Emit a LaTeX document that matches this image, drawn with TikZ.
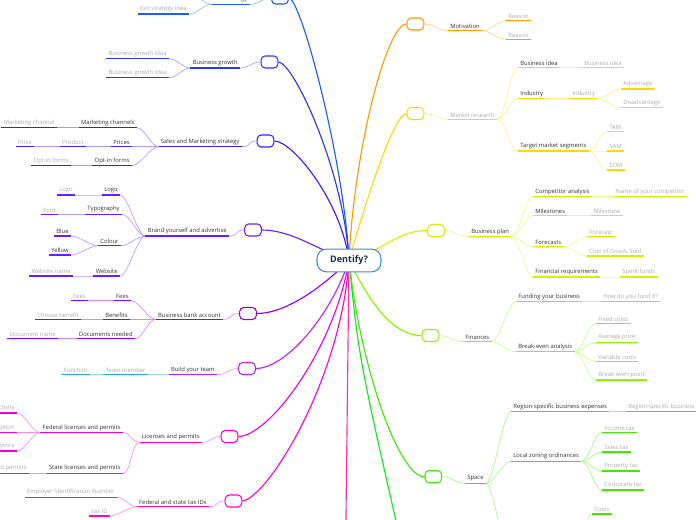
\documentclass[tikz,border=0pt]{standalone}
\usepackage{fontspec}
\setmainfont{Open Sans}
\usetikzlibrary{backgrounds}
\definecolor{cExit}{HTML}{1F5CFF}
\definecolor{cGrowth}{HTML}{2A36FF}
\definecolor{cSales}{HTML}{3B1CFF}
\definecolor{cBrand}{HTML}{6A1CFF}
\definecolor{cBank}{HTML}{8F00F5}
\definecolor{cTeam}{HTML}{C020EE}
\definecolor{cTeamSub}{HTML}{29A9E6}
\definecolor{cLic}{HTML}{EE00DD}
\definecolor{cTax}{HTML}{FF00C8}
\definecolor{cPink}{HTML}{FF2FA8}
\definecolor{cGreen}{HTML}{10E81A}
\definecolor{cSpace}{HTML}{3EEB00}
\definecolor{cFin}{HTML}{88F700}
\definecolor{cPlan}{HTML}{D2F200}
\definecolor{cMarket}{HTML}{FFD900}
\definecolor{cMot}{HTML}{FF9A00}
\definecolor{rootline}{HTML}{3A90D0}
\definecolor{rootink}{HTML}{1B2A4E}
\tikzstyle{topic} = [font=\fontsize{4.4}{5}\selectfont, text=black!80, inner xsep=1.6pt, inner ysep=1.3pt]
\tikzstyle{idea} = [topic, text=black!33]
\tikzstyle{wside} = [anchor=south east]
\tikzstyle{eside} = [anchor=south west]
\tikzstyle{knob} = [rectangle, rounded corners=3pt, minimum width=12.5pt, minimum height=9pt, line width=0.8pt, fill=white, draw]
\tikzstyle{rootbox} = [rectangle, rounded corners=7pt, minimum width=48pt, minimum height=17pt, draw=rootline, line width=0.8pt, fill=white, text=rootink, font=\bfseries\fontsize{6.8}{8}\selectfont]
\tikzstyle{stem} = [line width=0.85pt]
\tikzstyle{twig} = [line width=0.5pt]
\tikzset{ul/.style={append after command={(\tikzlastnode.south west) edge[draw=#1, line width=1.1pt] (\tikzlastnode.south east)}}}

\begin{document}
\begin{tikzpicture}[x=0.75pt, y=-0.75pt]
	\useasboundingbox (0,0) rectangle (696,520);
	\node (root) [rootbox] at (349,260.5) {Dentify?};

	% left half
	\node (bExit) [knob, draw=cExit] at (280,-2) {};
	\node (tExit) [topic, wside, ul=cExit] at (250,4.3) {Exit strategy};
	\node (exit2) [idea, wside, ul=cExit] at (189,14) {Exit strategy idea};
	\coordinate (exit1) at (189,-6);

	\node (bGrowth) [knob, draw=cGrowth] at (269.5,62) {};
	\node (tGrowth) [topic, wside, ul=cGrowth] at (240,68) {Business growth};
	\node (growth1) [idea, wside, ul=cGrowth] at (169,58.7) {Business growth idea};
	\node (growth2) [idea, wside, ul=cGrowth] at (169,77.7) {Business growth idea};

	\node (bSales) [knob, draw=cSales] at (265.5,141) {};
	\node (tSales) [topic, wside, ul=cSales] at (242,146.7) {Sales and Marketing strategy};
	\node (mchan) [topic, wside, ul=cSales] at (137,127.7) {Marketing channels};
	\node (mchan1) [idea, wside, ul=cSales] at (57,127.7) {Marketing channel};
	\node (prices) [topic, wside, ul=cSales] at (132,146.7) {Prices};
	\node (product) [idea, wside, ul=cSales] at (86,146.7) {Product};
	\node (price) [idea, wside, ul=cSales] at (34,146.7) {Price};
	\node (optin) [topic, wside, ul=cSales] at (132,165.7) {Opt-in forms};
	\node (optin1) [idea, wside, ul=cSales] at (71,165.7) {Opt-in forms};

	\node (bBrand) [knob, draw=cBrand] at (253,230) {};
	\node (tBrand) [topic, wside, ul=cBrand] at (229,236) {Brand yourself and advertise};
	\node (logo) [topic, wside, ul=cBrand] at (120,195) {Logo};
	\node (logo1) [idea, wside, ul=cBrand] at (75,195) {Logo};
	\node (typo) [topic, wside, ul=cBrand] at (122,214.3) {Typography};
	\node (font1) [idea, wside, ul=cBrand] at (58,214.3) {Font};
	\node (colour) [topic, wside, ul=cBrand] at (121,245.7) {Colour};
	\node (blue) [topic, wside, ul=cBrand] at (71,236) {Blue};
	\node (yellow) [topic, wside, ul=cBrand] at (71,255) {Yellow};
	\node (website) [topic, wside, ul=cBrand] at (120,276) {Website};
	\node (website1) [idea, wside, ul=cBrand] at (73,276) {Website name};

	\node (bBank) [knob, draw=cBank] at (248,313.5) {};
	\node (tBank) [topic, wside, ul=cBank] at (223,319.3) {Business bank account};
	\node (fees) [topic, wside, ul=cBank] at (131,300.7) {Fees};
	\node (fees1) [idea, wside, ul=cBank] at (88,300.7) {Fees};
	\node (benefits) [topic, wside, ul=cBank] at (130,319.3) {Benefits};
	\node (benefit1) [idea, wside, ul=cBank] at (81,319.3) {Choose benefit};
	\node (docs) [topic, wside, ul=cBank] at (135,338.7) {Documents needed};
	\node (doc1) [idea, wside, ul=cBank] at (58,338.7) {Document name};

	\node (bTeam) [knob, draw=cTeam] at (247,368.5) {};
	\node (tTeam) [topic, wside, ul=cTeam] at (217,374.7) {Build your team};
	\node (member) [idea, wside, ul=cTeamSub] at (148,374.7) {Team member};
	\node (func) [idea, wside, ul=cTeamSub] at (90,374.7) {Function};

	\node (bLic) [knob, draw=cLic] at (229.5,436.5) {};
	\node (tLic) [topic, wside, ul=cLic] at (202,442.3) {Licenses and permits};
	\node (fed) [topic, wside, ul=cLic] at (123,432.7) {Federal licenses and permits};
	\node (fed1) [idea, wside, ul=cLic] at (17,413) {Activity};
	\node (fed2) [idea, wside, ul=cLic] at (17,432.7) {Description};
	\node (fed3) [idea, wside, ul=cLic] at (17,451) {Agency};
	\node (state) [topic, wside, ul=cLic] at (123,473.3) {State licenses and permits};
	\node (state1) [idea, wside, ul=cLic] at (29,473.3) {Licenses and permits};

	\node (bTax) [knob, draw=cTax] at (233.5,501) {};
	\node (tTax) [topic, wside, ul=cTax] at (209,506.7) {Federal and state tax IDs};
	\node (ein) [idea, wside, ul=cTax] at (117,497.3) {Employer Identification Number};
	\node (taxid) [idea, wside, ul=cTax] at (110,516) {tax ID};

	\coordinate (pinkEnd) at (345,600);
	\coordinate (greenEnd) at (412,590);

	% right half
	\node (bMot) [knob, draw=cMot] at (415.5,24) {};
	\node (tMot) [topic, eside, ul=cMot] at (448,30.7) {Motivation};
	\node (reason1) [idea, eside, ul=cMot] at (506,20.7) {Reason};
	\node (reason2) [idea, eside, ul=cMot] at (506,39.3) {Reason};

	\node (bMarket) [knob, draw=cMarket] at (415.5,113.5) {};
	\node (tMarket) [idea, eside, ul=cMarket] at (448,119.3) {Market research};
	\node (bidea) [topic, eside, ul=cMarket] at (518,67.7) {Business idea};
	\node (bidea1) [idea, eside, ul=cMarket] at (582,67.7) {Business idea};
	\node (industry) [topic, eside, ul=cMarket] at (518,98.7) {Industry};
	\node (industry1) [idea, eside, ul=cMarket] at (570,98.7) {Industry};
	\node (adv) [idea, eside, ul=cMarket] at (621,89) {Advantage};
	\node (disadv) [idea, eside, ul=cMarket] at (621,107.7) {Disadvantage};
	\node (target) [topic, eside, ul=cMarket] at (518,151) {Target market segments};
	\node (tam) [idea, eside, ul=cMarket] at (607,131.7) {TAM};
	\node (sam) [idea, eside, ul=cMarket] at (607,151) {SAM};
	\node (som) [idea, eside, ul=cMarket] at (607,170) {SOM};

	\node (bPlan) [knob, draw=cPlan] at (436,230.5) {};
	\node (tPlan) [topic, eside, ul=cPlan] at (469,236.7) {Business plan};
	\node (comp) [topic, eside, ul=cPlan] at (533,196.7) {Competitor analysis};
	\node (comp1) [idea, eside, ul=cPlan] at (613,196.7) {Name of your competitor};
	\node (miles) [topic, eside, ul=cPlan] at (533,215.7) {Milestones};
	\node (miles1) [idea, eside, ul=cPlan] at (591,215.7) {Milestone};
	\node (fcast) [topic, eside, ul=cPlan] at (533,246.7) {Forecasts};
	\node (fcast1) [idea, eside, ul=cPlan] at (587,236.7) {Forecast};
	\node (cogs) [idea, eside, ul=cPlan] at (587,256) {Cost of Goods Sold};
	\node (finreq) [topic, eside, ul=cPlan] at (533,277) {Financial requirements};
	\node (spent) [idea, eside, ul=cPlan] at (620,277) {Spent funds};

	\node (bFin) [knob, draw=cFin] at (430.5,335.5) {};
	\node (tFin) [topic, eside, ul=cFin] at (463,341.7) {Finances};
	\node (fund) [topic, eside, ul=cFin] at (516,301.7) {Funding your business};
	\node (fund1) [idea, eside, ul=cFin] at (601,301.7) {How do you fund it?};
	\node (bea) [topic, eside, ul=cFin] at (516,351.7) {Break-even analysis};
	\node (fixed) [idea, eside, ul=cFin] at (596,323.3) {Fixed costs};
	\node (avg) [idea, eside, ul=cFin] at (596,342.3) {Average price};
	\node (varc) [idea, eside, ul=cFin] at (596,361.3) {Variable costs};
	\node (bep) [idea, eside, ul=cFin] at (596,380) {Break-even point};

	\node (bSpace) [knob, draw=cSpace] at (433.3,476.7) {};
	\node (tSpace) [topic, eside, ul=cSpace] at (465,483.3) {Space};
	\node (region) [topic, eside, ul=cSpace] at (511,411.7) {Region-specific business expenses};
	\node (region1) [idea, eside, ul=cSpace] at (626,411.7) {Region-specific business expenses};
	\node (zoning) [topic, eside, ul=cSpace] at (511,461.3) {Local zoning ordinances};
	\node (income) [idea, eside, ul=cSpace] at (602,432.7) {Income tax};
	\node (salestax) [idea, eside, ul=cSpace] at (602,452) {Sales tax};
	\node (property) [idea, eside, ul=cSpace] at (602,471) {Property tax};
	\node (corporate) [idea, eside, ul=cSpace] at (602,490) {Corporate tax};
	\node (costs) [idea, eside, ul=cSpace] at (592,514) {Costs};
	\coordinate (spcHid) at (511,560);
	\coordinate (spcFork) at (584,548);

	\begin{scope}[on background layer]
		% stems from the root
		\draw [stem, cExit] (root.center) .. controls +(-5,-100) and +(12,0) .. (bExit.east);
		\draw [stem, cGrowth] (root.center) .. controls +(-5,-90) and +(15,0) .. (bGrowth.east);
		\draw [stem, cSales] (root.center) .. controls +(-8,-60) and +(18,0) .. (bSales.east);
		\draw [stem, cBrand] (root.center) .. controls +(-30,-10) and +(30,0) .. (bBrand.east);
		\draw [stem, cBank] (root.center) .. controls +(-25,25) and +(30,0) .. (bBank.east);
		\draw [stem, cTeam] (root.center) .. controls +(-18,55) and +(30,0) .. (bTeam.east);
		\draw [stem, cLic] (root.center) .. controls +(-15,90) and +(30,0) .. (bLic.east);
		\draw [stem, cTax] (root.center) .. controls +(-8,120) and +(25,-3) .. (bTax.east);
		\draw [stem, cPink] (root.center) -- (pinkEnd);
		\draw [stem, cGreen] (root.center) .. controls +(10,100) .. (greenEnd);
		\draw [stem, cSpace] (root.center) .. controls +(12,110) and +(-25,0) .. (bSpace.west);
		\draw [stem, cFin] (root.center) .. controls +(20,40) and +(-30,0) .. (bFin.west);
		\draw [stem, cPlan] (root.center) .. controls +(35,-10) and +(-30,0) .. (bPlan.west);
		\draw [stem, cMarket] (root.center) .. controls +(20,-70) and +(-12,0) .. (bMarket.west);
		\draw [stem, cMot] (root.center) .. controls +(5,-110) and +(-20,0) .. (bMot.west);

		% knob to label
		\foreach \b/\t/\col in {bExit/tExit/cExit, bGrowth/tGrowth/cGrowth, bSales/tSales/cSales, bBrand/tBrand/cBrand, bBank/tBank/cBank, bTeam/tTeam/cTeam, bLic/tLic/cLic, bTax/tTax/cTax}
			\draw [twig, draw=\col!45] (\b.west) .. controls +(-10,0) and +(10,0) .. (\t.south east);
		\foreach \b/\t/\col in {bMot/tMot/cMot, bMarket/tMarket/cMarket, bPlan/tPlan/cPlan, bFin/tFin/cFin, bSpace/tSpace/cSpace}
			\draw [twig, draw=\col!45] (\b.east) .. controls +(10,0) and +(-10,0) .. (\t.south west);

		% forks, left half
		\foreach \p/\c/\col in {tExit/exit2/cExit, tGrowth/growth1/cGrowth, tGrowth/growth2/cGrowth,
			tSales/mchan/cSales, tSales/prices/cSales, tSales/optin/cSales, mchan/mchan1/cSales, prices/product/cSales, product/price/cSales, optin/optin1/cSales,
			tBrand/logo/cBrand, tBrand/typo/cBrand, tBrand/colour/cBrand, tBrand/website/cBrand, logo/logo1/cBrand, typo/font1/cBrand, colour/blue/cBrand, colour/yellow/cBrand, website/website1/cBrand,
			tBank/fees/cBank, tBank/benefits/cBank, tBank/docs/cBank, fees/fees1/cBank, benefits/benefit1/cBank, docs/doc1/cBank,
			tTeam/member/cTeamSub, member/func/cTeamSub,
			tLic/fed/cLic, tLic/state/cLic, fed/fed1/cLic, fed/fed2/cLic, fed/fed3/cLic, state/state1/cLic,
			tTax/ein/cTax, tTax/taxid/cTax}
			\draw [twig, draw=\col!45] (\p.south west) .. controls +(-8,0) and +(8,0) .. (\c.south east);
		\draw [twig, draw=cExit!45] (tExit.south west) .. controls +(-8,0) and +(8,0) .. (exit1);

		% forks, right half
		\foreach \p/\c/\col in {tMot/reason1/cMot, tMot/reason2/cMot,
			tMarket/bidea/cMarket, tMarket/industry/cMarket, tMarket/target/cMarket, bidea/bidea1/cMarket, industry/industry1/cMarket, industry1/adv/cMarket, industry1/disadv/cMarket, target/tam/cMarket, target/sam/cMarket, target/som/cMarket,
			tPlan/comp/cPlan, tPlan/miles/cPlan, tPlan/fcast/cPlan, tPlan/finreq/cPlan, comp/comp1/cPlan, miles/miles1/cPlan, fcast/fcast1/cPlan, fcast/cogs/cPlan, finreq/spent/cPlan,
			tFin/fund/cFin, tFin/bea/cFin, fund/fund1/cFin, bea/fixed/cFin, bea/avg/cFin, bea/varc/cFin, bea/bep/cFin,
			tSpace/region/cSpace, tSpace/zoning/cSpace, region/region1/cSpace, zoning/income/cSpace, zoning/salestax/cSpace, zoning/property/cSpace, zoning/corporate/cSpace}
			\draw [twig, draw=\col!45] (\p.south east) .. controls +(8,0) and +(-8,0) .. (\c.south west);
		\draw [twig, draw=cSpace!45] (tSpace.south east) .. controls +(8,0) and +(-8,0) .. (spcHid);
		\draw [twig, draw=cSpace!45] (spcFork) .. controls +(4,0) and +(-8,0) .. (costs.south west);
	\end{scope}
\end{tikzpicture}
\end{document}
